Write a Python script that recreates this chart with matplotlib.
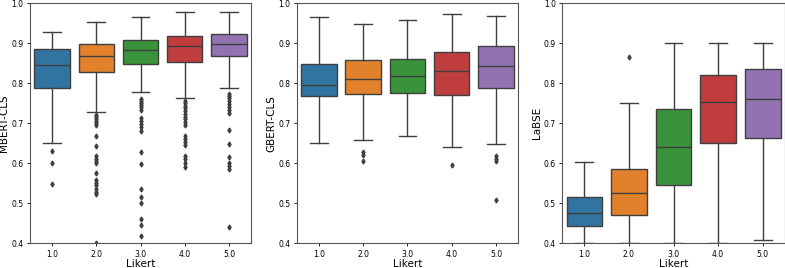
import matplotlib
matplotlib.use('Agg')
import matplotlib.pyplot as plt

# Likert categories on the x axis
likert = ['1.0', '2.0', '3.0', '4.0', '5.0']
colors = ['#3274a1', '#e1812c', '#3a923a', '#c03d3e', '#9372b2']

# box statistics: (whislo, q1, med, q3, whishi)
mbert_stats = [
    (0.650, 0.787, 0.846, 0.885, 0.928),
    (0.729, 0.828, 0.869, 0.897, 0.953),
    (0.778, 0.848, 0.882, 0.908, 0.965),
    (0.762, 0.854, 0.892, 0.918, 0.977),
    (0.787, 0.867, 0.898, 0.922, 0.977),
]
mbert_fliers = [
    [0.631, 0.600, 0.549],
    [0.720, 0.715, 0.710, 0.705, 0.700, 0.695, 0.667, 0.642, 0.617, 0.610,
     0.605, 0.600, 0.575, 0.558, 0.552, 0.546, 0.535, 0.529, 0.523, 0.401],
    [0.760, 0.755, 0.750, 0.745, 0.740, 0.733, 0.712, 0.705, 0.698, 0.690,
     0.680, 0.627, 0.598, 0.536, 0.517, 0.502, 0.460, 0.445, 0.418],
    [0.756, 0.750, 0.744, 0.738, 0.730, 0.722, 0.716, 0.710, 0.703, 0.696,
     0.667, 0.660, 0.652, 0.645, 0.617, 0.610, 0.602, 0.590],
    [0.773, 0.768, 0.762, 0.756, 0.748, 0.740, 0.732, 0.725, 0.683, 0.648,
     0.615, 0.600, 0.594, 0.587, 0.442],
]

gbert_stats = [
    (0.650, 0.767, 0.795, 0.848, 0.965),
    (0.658, 0.772, 0.810, 0.857, 0.948),
    (0.668, 0.775, 0.817, 0.860, 0.958),
    (0.640, 0.770, 0.830, 0.878, 0.972),
    (0.648, 0.787, 0.844, 0.892, 0.969),
]
gbert_fliers = [
    [],
    [0.627, 0.621, 0.605],
    [],
    [0.596],
    [0.617, 0.611, 0.606, 0.508],
]

labse_stats = [
    (0.401, 0.443, 0.475, 0.517, 0.603),
    (0.401, 0.471, 0.527, 0.586, 0.750),
    (0.401, 0.547, 0.641, 0.735, 0.900),
    (0.401, 0.650, 0.752, 0.821, 0.900),
    (0.408, 0.663, 0.760, 0.835, 0.900),
]
labse_fliers = [[], [0.865], [], [], []]

panels = [
    ('MBERT-CLS', mbert_stats, mbert_fliers),
    ('GBERT-CLS', gbert_stats, gbert_fliers),
    ('LaBSE', labse_stats, labse_fliers),
]

fig = plt.figure(figsize=(7.85, 2.68), dpi=100)
lefts = [0.038, 0.378, 0.716]
widths = [0.282, 0.282, 0.284]
gray = '#3f3f3f'

for (name, stats, fliers), left, w in zip(panels, lefts, widths):
    ax = fig.add_axes([left, 0.092, w, 0.896])
    bxp_stats = []
    for lab, s, f in zip(likert, stats, fliers):
        bxp_stats.append({'label': lab, 'whislo': s[0], 'q1': s[1], 'med': s[2],
                          'q3': s[3], 'whishi': s[4], 'fliers': f})
    bp = ax.bxp(bxp_stats, positions=range(len(likert)), widths=0.8,
                patch_artist=True, showfliers=True,
                boxprops=dict(edgecolor=gray, linewidth=1.0),
                medianprops=dict(color=gray, linewidth=1.0),
                whiskerprops=dict(color=gray, linewidth=1.0),
                capprops=dict(color=gray, linewidth=1.0),
                flierprops=dict(marker='d', markersize=2.5, markerfacecolor=gray,
                                markeredgecolor=gray, linestyle='none'))
    for patch, c in zip(bp['boxes'], colors):
        patch.set_facecolor(c)
    # shorter whisker caps, as seaborn draws them
    for cap in bp['caps']:
        x0, x1 = cap.get_xdata()
        mid = (x0 + x1) / 2
        cap.set_xdata([mid - 0.2, mid + 0.2])
    ax.set_xlim(-0.5, 4.5)
    ax.set_ylim(0.4, 1.0)
    ax.set_yticks([0.4, 0.5, 0.6, 0.7, 0.8, 0.9, 1.0])
    ax.tick_params(labelsize=5.5, length=2.5, width=0.6, pad=2)
    ax.set_xlabel('Likert', fontsize=7.5, labelpad=0)
    ax.set_ylabel(name, fontsize=7.5, labelpad=1.5)
    for sp in ax.spines.values():
        sp.set_linewidth(0.8)
        sp.set_color('#555555')

fig.savefig('out.png', dpi=100)
